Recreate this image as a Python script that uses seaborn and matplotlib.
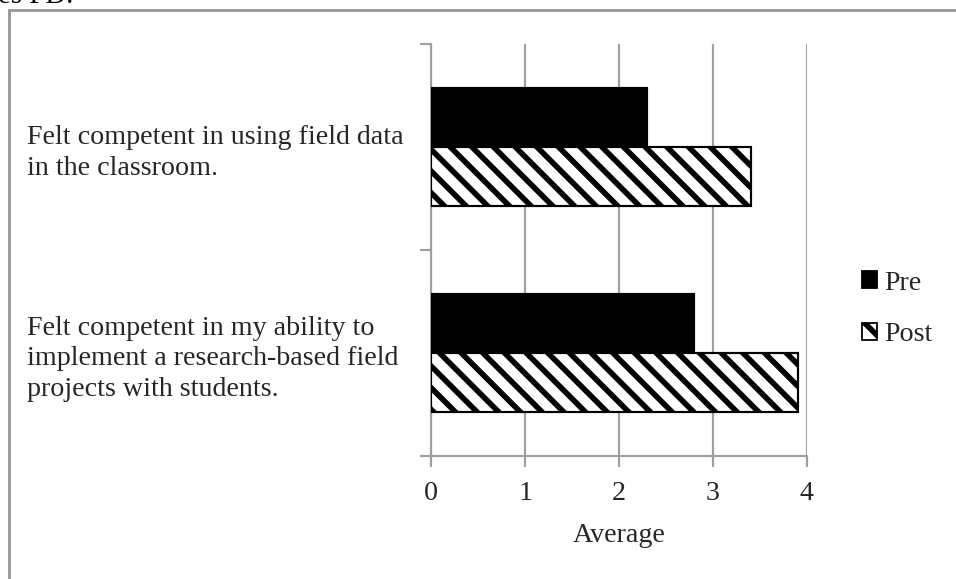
import matplotlib
matplotlib.use("Agg")
import matplotlib.pyplot as plt
from matplotlib.patches import Rectangle, Patch
import seaborn as sns
import pandas as pd

# Survey items (wrapped as they appear on the axis) and average ratings
items = [
    "Felt competent in using field data\nin the classroom.",
    "Felt competent in my ability to\nimplement a research-based field\nprojects with students.",
]
groups = ["Pre", "Post"]
pre_values = [2.3, 2.8]
post_values = [3.4, 3.9]
x_ticks = [0, 1, 2, 3, 4]
x_label = "Average"

df = pd.DataFrame({
    "item": items * 2,
    "group": ["Pre"] * len(items) + ["Post"] * len(items),
    "value": pre_values + post_values,
})

sns.set_theme(style="white")
plt.rcParams["font.family"] = ["Liberation Serif", "DejaVu Serif"]
plt.rcParams["hatch.linewidth"] = 3.1
plt.rcParams["hatch.color"] = "black"

DPI = 130
W, H = 956, 579
FS = 15.5
fig = plt.figure(figsize=(W / DPI, H / DPI), dpi=DPI)
fig.patch.set_facecolor("white")

# Chart frame
fig.patches.append(Rectangle((9 / W, -0.05), 1.2, 1 - 10 / H + 0.05,
                             transform=fig.transFigure, fill=False,
                             edgecolor="#999999", linewidth=1.6, zorder=0))
fig.text(-2 / W, 1 - 3 / H, "es PD.", fontsize=16, va="baseline", ha="left",
         color="black")

left, right, top, bottom = 431 / W, 807 / W, 1 - 44 / H, 1 - 456 / H
ax = fig.add_axes([left, bottom, right - left, top - bottom])

sns.barplot(data=df, y="item", x="value", hue="group", hue_order=groups,
            palette={"Pre": "black", "Post": "white"}, orient="h",
            width=0.57, edgecolor="black", linewidth=1.2, saturation=1,
            errorbar=None, ax=ax, legend=False, zorder=3)

for patch in ax.containers[1]:
    patch.set_hatch("\\\\")

ax.set_xlim(0, 4)
ax.set_ylim(1.5, -0.5)
ax.set_xticks(x_ticks)
ax.set_xticklabels([str(t) for t in x_ticks], fontsize=FS)
ax.set_xlabel(x_label, fontsize=FS, labelpad=9)
ax.set_ylabel("")

# Category boundaries carry the tick marks; labels sit at the centres
ax.set_yticks([-0.5, 0.5, 1.5])
ax.set_yticklabels([])
ax.set_yticks([0, 1], minor=True)
ax.set_yticklabels(items, minor=True, fontsize=FS, ha="left", linespacing=1.3)
ax.tick_params(axis="y", which="minor", length=0, pad=404 * 72 / DPI)
ax.tick_params(axis="y", which="major", length=6, width=1.2, color="#a0a0a0",
               direction="out", left=True)
ax.tick_params(axis="x", length=6, width=1.2, color="#a0a0a0", direction="out",
               bottom=True, pad=8)

ax.grid(axis="x", color="#a0a0a0", linewidth=1.2, zorder=0)
ax.grid(axis="y", visible=False)
ax.set_axisbelow(True)
for side in ["top", "right"]:
    ax.spines[side].set_visible(False)
for side in ["left", "bottom"]:
    ax.spines[side].set_color("#a0a0a0")
    ax.spines[side].set_linewidth(1.2)

handles = [Patch(facecolor="black", edgecolor="black", linewidth=1.0),
           Patch(facecolor="white", edgecolor="black", linewidth=1.0, hatch="\\\\")]
fig.legend(handles, groups, loc="center left",
           bbox_to_anchor=(862 / W, 1 - 309 / H), frameon=False, fontsize=FS,
           handlelength=0.55, handleheight=0.55, handletextpad=0.25,
           labelspacing=0.95, borderpad=0, borderaxespad=0)

fig.savefig("out.png", dpi=DPI, facecolor="white")
